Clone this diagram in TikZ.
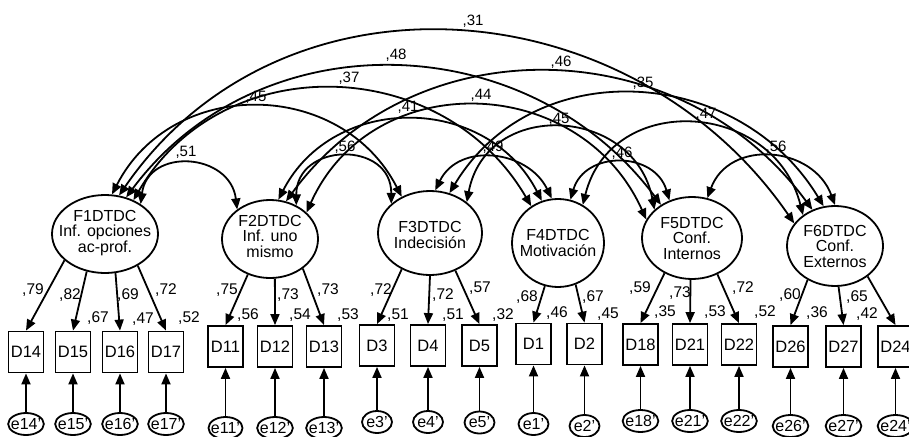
\documentclass[tikz,border=0pt]{standalone}
\usepackage{fontspec}
\setmainfont{Liberation Sans}
\usetikzlibrary{shapes.geometric,arrows.meta,calc}
\newcommand\covarc[3]{%
  \draw[corr] let \p1=(#1), \p2=(#2),
    \n1={veclen(\x2-\x1,\y2-\y1)/2},
    \n2={-(#3)-0.5*(\y1)-0.5*(\y2)},
    \n3={2*atan(\n2/\n1)},
    \n4={\n2/(0.75*sin(\n3))}
  in (#1) .. controls +(\n3:\n4) and +(180-\n3:\n4) .. (#2);}
\begin{document}
\begin{tikzpicture}[x=1pt,y=1pt,
  fac/.style={ellipse,draw,line width=1.8pt,inner sep=0pt},
  ftext/.style={align=center,inner sep=0pt,font=\fontsize{16}{15.5}\selectfont},
  ind/.style={rectangle,draw,line width=1.8pt,minimum width=35pt,minimum height=41pt,inner sep=0pt,font=\fontsize{16.5}{16.5}\selectfont},
  err/.style={ellipse,draw,line width=1.8pt,minimum width=30pt,minimum height=22pt,inner xsep=-2.5pt,inner ysep=0pt,font=\fontsize{16}{16}\selectfont},
  load/.style={line width=1.8pt,-{Triangle[length=11pt,width=9pt]}},
  corr/.style={line width=1.8pt,{Triangle[length=11pt,width=9pt]}-{Triangle[length=11pt,width=9pt]}},
  lab/.style={inner sep=0pt,font=\fontsize{15.5}{15.5}\selectfont},
  clab/.style={inner sep=0pt,font=\fontsize{15}{15}\selectfont}]
\fill[white] (0,0) rectangle (909,-436);
\useasboundingbox (0,0) rectangle (909,-436);

% factors
\node[fac,minimum width=106pt,minimum height=78pt] (F1) at (105,-234) {};
\node[ftext] (t1) at (105,-233) {F1DTDC\\Inf. opciones\\ac-prof.};
\node[fac,minimum width=96pt,minimum height=78pt] (F2) at (270,-239) {};
\node[ftext] (t2) at (270,-236) {F2DTDC\\Inf. uno\\mismo};
\node[fac,minimum width=104pt,minimum height=84pt] (F3) at (430,-233) {};
\node[ftext] (t3) at (430,-235) {F3DTDC\\Indecisión};
\node[fac,minimum width=92pt,minimum height=88pt] (F4) at (558,-243) {};
\node[ftext] (t4) at (558,-243) {F4DTDC\\Motivación};
\node[fac,minimum width=100pt,minimum height=82pt] (F5) at (692,-238) {};
\node[ftext] (t5) at (692,-238) {F5DTDC\\Conf.\\Internos};
\node[fac,minimum width=96pt,minimum height=80pt] (F6) at (835,-246) {};
\node[ftext] (t6) at (835,-246) {F6DTDC\\Conf.\\Externos};

% indicators
\node[ind] (D14) at (26,-352) {D14};
\node[ind] (D15) at (73,-352) {D15};
\node[ind] (D16) at (120,-352) {D16};
\node[ind] (D17) at (166,-352) {D17};
\node[ind] (D11) at (225.5,-346.5) {D11};
\node[ind] (D12) at (275,-346.5) {D12};
\node[ind] (D13) at (324,-346.5) {D13};
\node[ind] (D3) at (377,-345.5) {D3};
\node[ind] (D4) at (428,-345.5) {D4};
\node[ind] (D5) at (479.5,-345.5) {D5};
\node[ind] (D1) at (533.5,-344) {D1};
\node[ind] (D2) at (584.5,-344) {D2};
\node[ind] (D18) at (640.5,-344.5) {D18};
\node[ind] (D21) at (690,-344.5) {D21};
\node[ind] (D22) at (739,-344.5) {D22};
\node[ind] (D26) at (790.5,-346.5) {D26};
\node[ind] (D27) at (843.5,-346.5) {D27};
\node[ind] (D24) at (895.5,-346.5) {D24};

% errors
\node[err] (e14) at (26,-424) {e14'};
\node[err] (e15) at (73,-424) {e15'};
\node[err] (e16) at (120,-424) {e16'};
\node[err] (e17) at (166,-424) {e17'};
\node[err] (e11) at (225.5,-428) {e11'};
\node[err] (e12) at (275,-428) {e12'};
\node[err] (e13) at (324,-428) {e13'};
\node[err] (e3) at (377,-422) {e3'};
\node[err] (e4) at (428,-422) {e4'};
\node[err] (e5) at (479.5,-422.5) {e5'};
\node[err] (e1) at (533.5,-424) {e1'};
\node[err] (e2) at (584.5,-426) {e2'};
\node[err] (e18) at (640.5,-421) {e18'};
\node[err] (e21) at (690,-421) {e21'};
\node[err] (e22) at (739,-421) {e22'};
\node[err] (e26) at (790.5,-426) {e26'};
\node[err] (e27) at (843.5,-426) {e27'};
\node[err] (e24) at (895.5,-426) {e24'};

% error arrows
\foreach \n in {14,15,16,17,11,12,13,3,4,5,1,2,18,21,22,26,27,24}
  \draw[load] (e\n.north) -- (D\n.south);

% loadings
\draw[load] (F1.213) -- (D14.north);
\draw[load] (F1.244) -- (D15.north);
\draw[load] (F1.285) -- (D16.north);
\draw[load] (F1.316) -- (D17.north);
\draw[load] (F2.238) -- (D11.north);
\draw[load] (F2.277) -- (D12.north);
\draw[load] (F2.318) -- (D13.north);
\draw[load] (F3.232) -- (D3.north);
\draw[load] (F3.270) -- (D4.north);
\draw[load] (F3.304) -- (D5.north);
\draw[load] (F4.253) -- (D1.north);
\draw[load] (F4.293) -- (D2.north);
\draw[load] (F5.232) -- (D18.north);
\draw[load] (F5.268) -- (D21.north);
\draw[load] (F5.305) -- (D22.north);
\draw[load] (F6.231) -- (D26.north);
\draw[load] (F6.275) -- (D27.north);
\draw[load] (F6.317) -- (D24.north);

% covariances
\covarc{F1.40}{F2.138}{164}
\covarc{F1.80}{F3.128}{107}
\covarc{F1.50}{F4.126}{89}
\covarc{F1.60}{F5.133}{67}
\covarc{F1.70}{F6.151}{32}
\covarc{F2.52}{F3.143}{157}
\covarc{F2.78}{F4.111}{120}
\covarc{F2.36}{F5.158}{106}
\covarc{F2.67}{F6.122}{72}
\covarc{F3.83}{F4.98}{158}
\covarc{F3.40}{F5.143}{128}
\covarc{F3.64}{F6.106}{94}
\covarc{F4.74}{F5.121}{163}
\covarc{F4.57}{F6.136}{124}
\covarc{F5.69}{F6.90}{157}

% loading labels
\node[lab] (a1) at (33,-290) {,79};
\node[lab] (a2) at (70,-295) {,82};
\node[lab] (a3) at (128,-295) {,69};
\node[lab] (a4) at (166,-290) {,72};
\node[lab] (a5) at (227,-290) {,75};
\node[lab] (a6) at (288,-295) {,73};
\node[lab] (a7) at (328,-290) {,73};
\node[lab] (a8) at (381,-290) {,72};
\node[lab] (a9) at (443,-295) {,72};
\node[lab] (a10) at (480,-288) {,57};
\node[lab] (a11) at (527,-297) {,68};
\node[lab] (a12) at (593,-297) {,67};
\node[lab] (a13) at (640,-288) {,59};
\node[lab] (a14) at (680,-293) {,73};
\node[lab] (a15) at (743,-288) {,72};
\node[lab] (a16) at (790,-295) {,60};
\node[lab] (a17) at (857,-297) {,65};

% squared multiple correlations
\node[lab] (r1) at (98,-318) {,67};
\node[lab] (r2) at (143,-319) {,47};
\node[lab] (r3) at (189,-318) {,52};
\node[lab] (r4) at (248,-315) {,56};
\node[lab] (r5) at (300,-315) {,54};
\node[lab] (r6) at (348,-315) {,53};
\node[lab] (r7) at (398,-315) {,51};
\node[lab] (r8) at (453,-315) {,51};
\node[lab] (r9) at (503,-315) {,32};
\node[lab] (r10) at (557,-313) {,46};
\node[lab] (r11) at (608,-314) {,45};
\node[lab] (r12) at (665,-312) {,35};
\node[lab] (r13) at (715,-312) {,53};
\node[lab] (r14) at (765,-312) {,52};
\node[lab] (r15) at (817,-313) {,36};
\node[lab] (r16) at (867,-314) {,42};

% correlation labels
\node[clab] (c16) at (473,-21) {,31};
\node[clab] (c15) at (396,-55) {,48};
\node[clab] (c14) at (349,-78) {,37};
\node[clab] (c13) at (256,-97) {,45};
\node[clab] (c12) at (186,-152) {,51};
\node[clab] (c24) at (408,-107) {,41};
\node[clab] (c23) at (345,-147) {,56};
\node[clab] (c26) at (561,-62) {,46};
\node[clab] (c25) at (481,-95) {,44};
\node[clab] (c36) at (643,-83) {,35};
\node[clab] (c35) at (559,-119) {,45};
\node[clab] (c34) at (493,-147) {,49};
\node[clab] (c46) at (706,-114) {,47};
\node[clab] (c45) at (622,-153) {,46};
\node[clab] (c56) at (776,-147) {,56};
\end{tikzpicture}
\end{document}
